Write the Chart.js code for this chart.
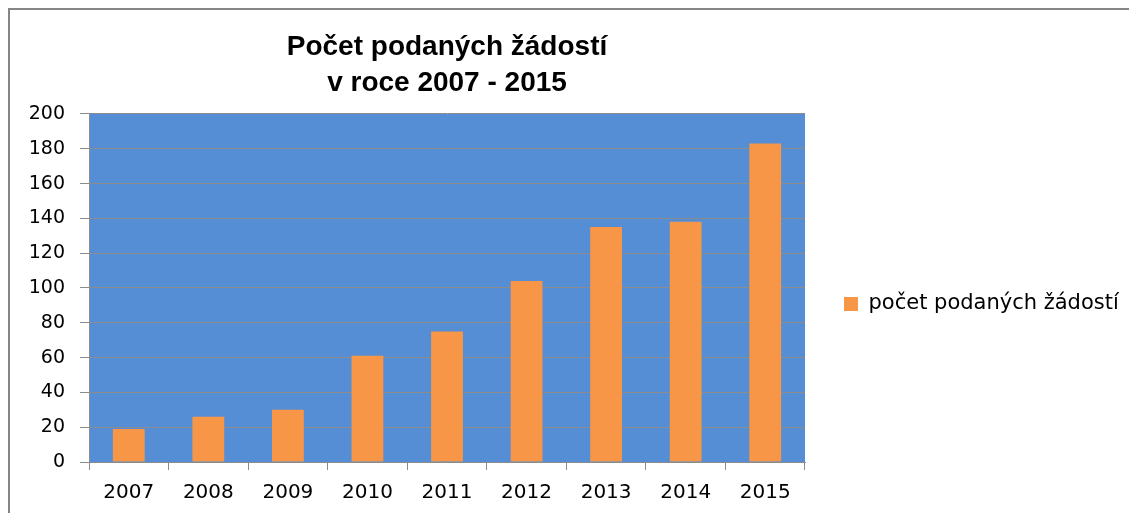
<!DOCTYPE html>
<html>
<head>
<meta charset="utf-8">
<script src="https://cdn.jsdelivr.net/npm/chart.js@4/dist/chart.umd.min.js"></script>
<style>
  html, body { margin: 0; padding: 0; background: #ffffff; }
  #wrap { position: relative; width: 1129px; height: 513px; overflow: hidden; }
  #frame { position: absolute; left: 8px; top: 8px; width: 1300px; height: 700px;
           border-left: 2px solid #858585; border-top: 2px solid #858585; pointer-events: none; }
  canvas { position: absolute; left: 0; top: 0; }
</style>
</head>
<body>
<div id="wrap">
  <canvas id="c" width="1129" height="513"></canvas>
  <div id="frame"></div>
</div>
<script>
const categories = ['2007', '2008', '2009', '2010', '2011', '2012', '2013', '2014', '2015'];
const seriesValues = [19, 26, 30, 61, 75, 104, 135, 138, 183];
const seriesLabel = 'počet podaných žádostí';
const titleLines = ['Počet podaných žádostí', 'v roce 2007 - 2015'];
const yTickValues = [0, 20, 40, 60, 80, 100, 120, 140, 160, 180, 200];

const legendFontSize = 21;
const legendFont = '"DejaVu Sans"';
const legendPad = 39;
const mctx = document.createElement('canvas').getContext('2d');
mctx.font = legendFontSize + 'px ' + legendFont;
const legendTextW = mctx.measureText(seriesLabel).width;
const legendW = legendPad + 14 + legendFontSize / 2 + legendTextW + 10;
const rightPad = Math.max(0, 1129 - 805 - legendW);

const plotBg = {
  id: 'plotBg',
  beforeDraw(chart) {
    const a = chart.chartArea;
    const ctx = chart.ctx;
    ctx.save();
    ctx.fillStyle = '#558ED5';
    ctx.fillRect(a.left, a.top, a.right - a.left, a.bottom - a.top);
    ctx.restore();
  }
};

new Chart(document.getElementById('c'), {
  type: 'bar',
  data: {
    labels: categories,
    datasets: [{
      label: seriesLabel,
      data: seriesValues,
      backgroundColor: '#F79646',
      borderWidth: 0,
      barPercentage: 0.4,
      categoryPercentage: 1.0
    }]
  },
  plugins: [plotBg],
  options: {
    responsive: false,
    animation: false,
    devicePixelRatio: 1,
    layout: { padding: { left: 10, right: rightPad, top: 0, bottom: 0 } },
    plugins: {
      title: {
        display: true,
        text: titleLines,
        fullSize: false,
        color: '#000000',
        font: { family: '"Liberation Sans", Arial, sans-serif', size: 28, weight: 'bold', lineHeight: 1.31 },
        padding: { top: 28.7, bottom: 11.9 }
      },
      legend: {
        display: true,
        position: 'right',
        align: 'center',
        maxWidth: 500,
        title: { display: true, text: '', font: { size: 10, lineHeight: 1.2 }, padding: { top: 83, bottom: 0 } },
        labels: {
          boxWidth: 14,
          boxHeight: 14,
          padding: legendPad,
          color: '#000000',
          font: { family: legendFont, size: legendFontSize }
        }
      },
      tooltip: { enabled: false }
    },
    scales: {
      x: {
        afterFit(scale) { scale.height = 51; },
        grid: {
          offset: true,
          drawOnChartArea: false,
          drawTicks: true,
          tickLength: 8,
          color: '#8c8c8c'
        },
        border: { display: true, color: '#8c8c8c', width: 1 },
        ticks: {
          color: '#000000',
          padding: 11,
          font: { family: '"DejaVu Sans"', size: 20 }
        }
      },
      y: {
        min: 0,
        max: 200,
        afterFit(scale) { scale.width = 79; },
        afterBuildTicks(scale) { scale.ticks = yTickValues.map(v => ({ value: v })); },
        grid: {
          color: '#8c8c8c',
          drawTicks: true,
          tickLength: 9
        },
        border: { display: true, color: '#8c8c8c', width: 1 },
        ticks: {
          color: '#000000',
          padding: 15,
          font: { family: '"DejaVu Sans"', size: 19 }
        }
      }
    }
  }
});
</script>
</body>
</html>
